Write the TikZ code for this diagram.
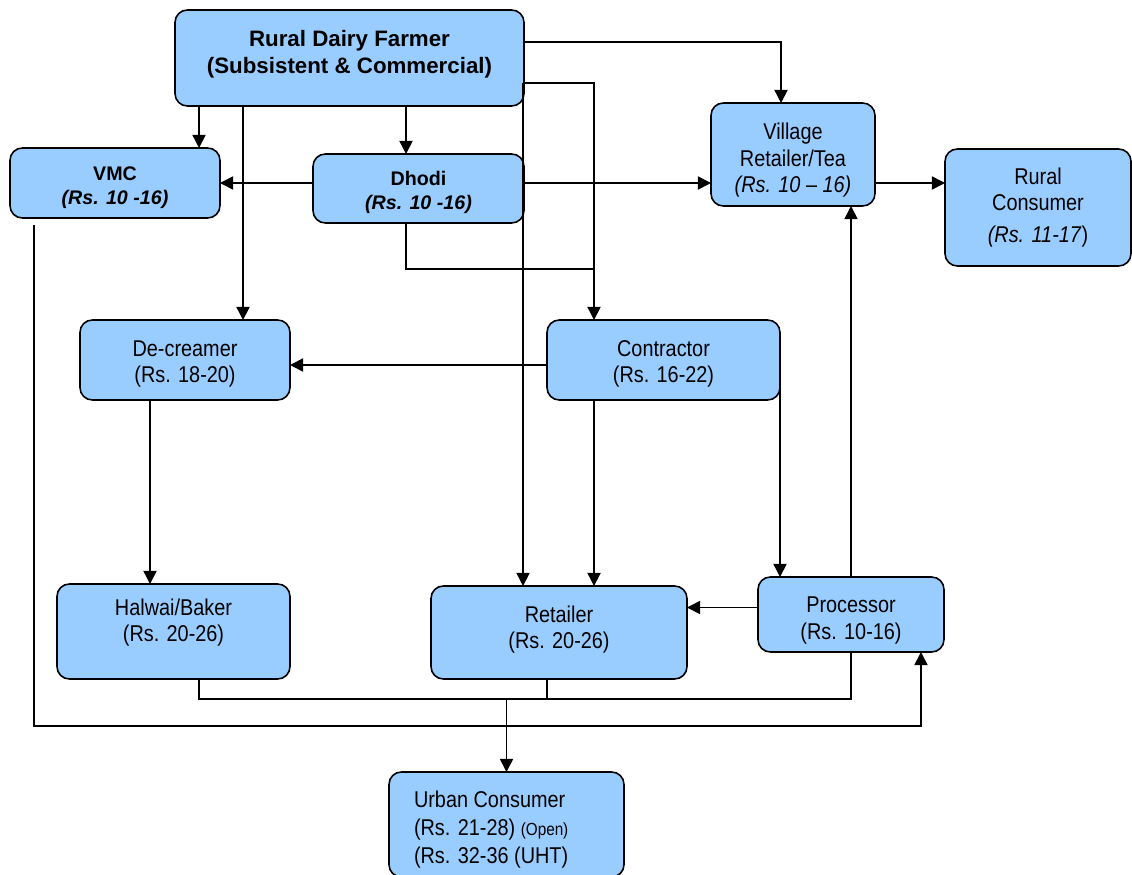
\documentclass[tikz,border=0pt]{standalone}
\usepackage{fontspec}
\setmainfont{Liberation Sans}
\newfontfamily\narrowsans[FakeStretch=0.87]{Liberation Sans}
\usetikzlibrary{arrows.meta,calc}
\definecolor{boxblue}{HTML}{99CCFF}
\tikzset{
  stage/.style={draw, fill=boxblue, rounded corners=7pt, line width=0.9pt, align=center, inner sep=2pt, outer sep=0pt,
    font=\narrowsans\fontsize{13}{15}\selectfont},
  keystage/.style={stage, font=\bfseries\fontsize{12.7}{15.3}\selectfont},
  smallkey/.style={stage, font=\bfseries\fontsize{11.2}{13.6}\selectfont, text height=26.6pt},
  flow/.style={line width=0.9pt, -{Triangle[length=7.5pt,width=7.5pt]}},
  link/.style={line width=0.9pt}
}

\begin{document}
\begin{tikzpicture}[x=0.02cm,y=-0.02cm]
\useasboundingbox (0,0) rectangle (1132,875);
% stages
\node[keystage, minimum width=6.98cm, minimum height=1.92cm, text depth=6.5pt] (farmer) at (349.5,58) {Rural Dairy Farmer\\(Subsistent \& Commercial)};
\node[smallkey, minimum width=4.2cm, minimum height=1.4cm] (vmc) at (115,183) {VMC\\\textit{(Rs. 10 -16)}};
\node[smallkey, minimum width=4.22cm, minimum height=1.38cm] (dhodi) at (418.5,188.5) {Dhodi\\\textit{(Rs. 10 -16)}};
\node[stage, minimum width=3.28cm, minimum height=2.06cm, text height=46pt] (village) at (793,154.5) {Village\\Retailer/Tea\\\textit{(Rs. 10 – 16)}};
\node[stage, minimum width=3.72cm, minimum height=2.34cm] (rural) at (1038,207.5) {Rural\\Consumer\\[3pt]\textit{(Rs. 11-17})};
\node[stage, minimum width=4.2cm, minimum height=1.6cm, text height=28.7pt] (decreamer) at (185,360) {De-creamer\\(Rs. 18-20)};
\node[stage, minimum width=4.66cm, minimum height=1.6cm, text height=28.7pt] (contractor) at (663.5,360) {Contractor\\(Rs. 16-22)};
\node[stage, minimum width=4.66cm, minimum height=1.9cm, text depth=13pt] (halwai) at (173.5,631.5) {Halwai/Baker\\(Rs. 20-26)};
\node[stage, minimum width=5.12cm, minimum height=1.86cm, text depth=6pt] (retailer) at (559,632.5) {Retailer\\(Rs. 20-26)};
\node[stage, minimum width=3.72cm, minimum height=1.5cm, text height=30.7pt] (processor) at (851,614.5) {Processor\\(Rs. 10-16)};
\node[stage, text width=3.7cm, inner xsep=0.5cm, minimum height=2.1cm, align=flush left, text height=15pt,
  font=\narrowsans\fontsize{13}{16}\selectfont] (urban) at (506.5,824.5) {Urban Consumer\\(Rs. 21-28) {\fontsize{10}{12}\selectfont(Open)}\\(Rs. 32-36 (UHT)};

% from the farmer
\draw[flow] ($(farmer.south west)+(24,0)$) -- ($(vmc.north west)+(189,0)$);
\draw[flow] ($(farmer.south west)+(68,0)$) -- ($(decreamer.north west)+(163,0)$);
\draw[flow] ($(farmer.south west)+(231,0)$) -- ($(dhodi.north west)+(93,0)$);
\draw[flow] ($(farmer.north east)+(0,32)$) -| ($(village.north west)+(70,0)$);
\draw[flow] ($(farmer.north east)+(0,73)$) -| ($(contractor.north west)+(47,0)$);
\draw[flow] ($(farmer.north east)+(-1,73)$) -- ($(retailer.north west)+(92,0)$);

% dhodi, village
\draw[flow] (dhodi.west |- vmc.east) -- (vmc.east);
\draw[flow] (dhodi.east |- vmc.east) -- (village.west |- vmc.east);
\draw[link] ($(dhodi.south west)+(93,0)$) |- ($(contractor.north west)+(47,-51)$);
\draw[flow] (village.east |- vmc.east) -- (rural.west |- vmc.east);

% contractor, de-creamer, processor
\draw[flow] ($(contractor.west)+(0,5)$) -- ($(decreamer.east)+(0,5)$);
\draw[flow] ($(contractor.south west)+(47,0)$) -- ($(retailer.north west)+(163,0)$);
\draw[flow] ($(contractor.south east)+(0,-12)$) -- ($(processor.north west)+(22,0)$);
\draw[flow] ($(decreamer.south west)+(70,0)$) -- ($(halwai.north west)+(93,0)$);
\draw[flow] (processor.north) -- (processor.north |- village.south);
\draw[flow] ($(processor.west)+(0,-7)$) -- ($(retailer.east)+(0,-25)$);

% to the urban consumer
\draw[link] ($(halwai.south west)+(142,0)$) |- ($(processor.south)+(0,47)$) -- (processor.south);
\draw[link] ($(retailer.south west)+(116,0)$) -- ++(0,20);
\draw[flow] ($(urban.north)+(0,-73)$) -- (urban.north);
\draw[flow] ($(vmc.south west)+(24,7)$) |- ($(processor.south east)+(-23,74)$) -- ($(processor.south east)+(-23,0)$);
\end{tikzpicture}
\end{document}
